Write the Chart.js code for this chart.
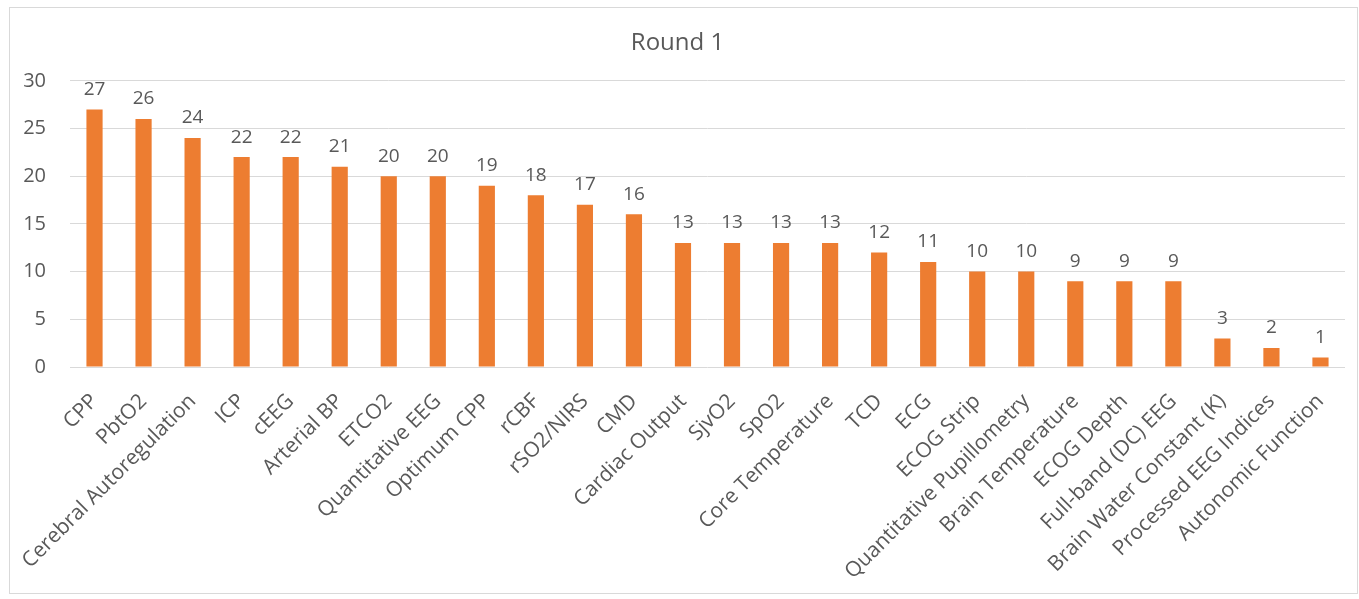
<!DOCTYPE html>
<html>
<head>
<meta charset="utf-8">
<title>Round 1</title>
<script src="https://cdn.jsdelivr.net/npm/chart.js@4"></script>
<style>
  html, body { margin: 0; padding: 0; background: #fff; }
  #frame {
    position: absolute;
    left: 9px; top: 7px;
    width: 1347px; height: 585px;
    border: 1px solid #d9d9d9;
  }
</style>
</head>
<body>
<div id="frame"><canvas id="roundChart" width="1347" height="585"></canvas></div>
<script>
// Monitoring modalities and how many votes each got in round 1
const categories = [
    'CPP', 'PbtO2', 'Cerebral Autoregulation', 'ICP', 'cEEG', 'Arterial BP',
    'ETCO2', 'Quantitative EEG', 'Optimum CPP', 'rCBF', 'rSO2/NIRS', 'CMD',
    'Cardiac Output', 'SjvO2', 'SpO2', 'Core Temperature', 'TCD', 'ECG',
    'ECOG Strip', 'Quantitative Pupillometry', 'Brain Temperature', 'ECOG Depth',
    'Full-band (DC) EEG', 'Brain Water Constant (K)', 'Processed EEG Indices',
    'Autonomic Function'
];
const votes = [27, 26, 24, 22, 22, 21, 20, 20, 19, 18, 17, 16, 13, 13, 13, 13, 12, 11, 10, 10, 9, 9, 9, 3, 2, 1];
const yTicks = [0, 5, 10, 15, 20, 25, 30];

const textColor = '#595959';
const fontFamily = '"Open Sans", "Liberation Sans", sans-serif';

// Write each bar's value just above it
const valueLabels = {
    id: 'valueLabels',
    afterDatasetsDraw(chart) {
        const ctx = chart.ctx;
        const meta = chart.getDatasetMeta(0);
        ctx.save();
        ctx.fillStyle = textColor;
        ctx.font = '19px ' + fontFamily;
        ctx.textAlign = 'center';
        ctx.textBaseline = 'middle';
        meta.data.forEach((bar, i) => {
            ctx.fillText(String(votes[i]), bar.x, bar.y - 20);
        });
        ctx.restore();
    }
};

function initChart() {
    const ctx = document.getElementById('roundChart').getContext('2d');

    const config = {
        type: 'bar',
        data: {
            labels: categories,
            datasets: [{
                data: votes,
                backgroundColor: '#ed7d31',
                borderWidth: 0,
                categoryPercentage: 1,
                barPercentage: 0.33
            }]
        },
        options: {
            responsive: false,
            animation: false,
            layout: { padding: { left: 0, right: 12, top: 0, bottom: 0 } },
            plugins: {
                legend: { display: false },
                tooltip: { enabled: false },
                title: {
                    display: true,
                    text: 'Round 1',
                    color: textColor,
                    font: { family: fontFamily, size: 24, weight: 'normal' },
                    padding: { top: 21, bottom: 23 }
                }
            },
            scales: {
                x: {
                    grid: { display: false },
                    border: { display: false },
                    afterFit(scale) {
                        scale.height = 226;
                    },
                    ticks: {
                        color: textColor,
                        font: { family: fontFamily, size: 21 },
                        maxRotation: 45,
                        minRotation: 45,
                        autoSkip: false,
                        padding: 14
                    }
                },
                y: {
                    min: 0,
                    max: 30,
                    afterBuildTicks(scale) {
                        scale.ticks = yTicks.map(v => ({ value: v }));
                    },
                    afterFit(scale) {
                        scale.width = 60;
                    },
                    grid: { color: '#d9d9d9', drawTicks: false },
                    border: { display: false },
                    ticks: {
                        color: textColor,
                        font: { family: fontFamily, size: 20 },
                        padding: 24
                    }
                }
            }
        },
        plugins: [valueLabels]
    };

    new Chart(ctx, config);
}

document.addEventListener('DOMContentLoaded', initChart);
</script>
</body>
</html>
